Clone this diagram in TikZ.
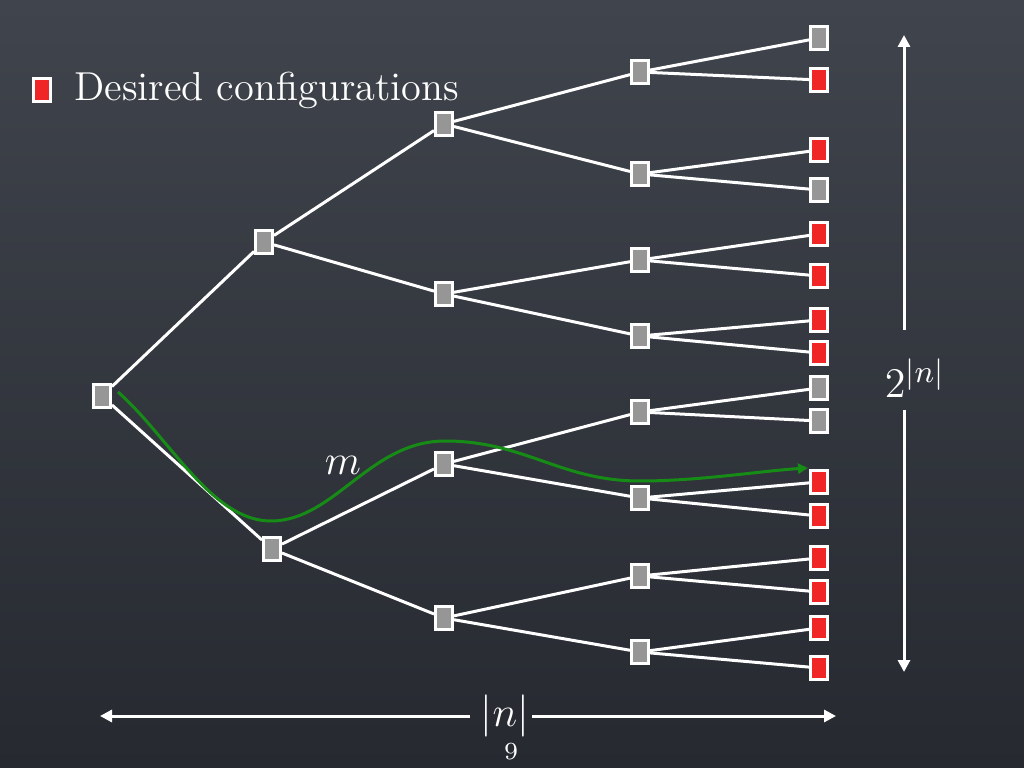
\documentclass[tikz,border=0pt]{standalone}
\usetikzlibrary{arrows.meta}

\definecolor{boardtop}{RGB}{64,68,76}
\definecolor{boardbot}{RGB}{38,41,48}
\definecolor{chalkred}{RGB}{240,38,38}
\definecolor{chalkgray}{RGB}{150,150,150}
\definecolor{chalkgreen}{RGB}{22,140,22}

\tikzset{
  cfg/.style={draw=white, line width=0.3mm, fill=chalkgray, minimum width=1.7mm, minimum height=2.3mm, inner sep=0pt},
  want/.style={cfg, fill=chalkred},
  branch/.style={white, line width=0.3mm},
  dimline/.style={white, line width=0.3mm, -{Triangle[length=1.2mm,width=1.2mm]}},
  chalktext/.style={white, font=\fontsize{11.5}{14}\selectfont},
}

\begin{document}
\begin{tikzpicture}[x=0.1mm, y=-0.1mm]
    % Board
    \shade[top color=boardtop, bottom color=boardbot] (0,0) rectangle (1024,768);
    \useasboundingbox (0,0) rectangle (1024,768);

    % Legend
    \node[want] (key) at (42,90) {};
    \node[chalktext, anchor=west] (keytext) at (62,90) {Desired configurations};

    % Root and first level
    \node[cfg] (r) at (102,396) {};
    \node[cfg] (a1) at (264,242) {};
    \node[cfg] (a2) at (272,549) {};

    % Second level
    \node[cfg] (b1) at (444,124) {};
    \node[cfg] (b2) at (444,294) {};
    \node[cfg] (b3) at (444,464) {};
    \node[cfg] (b4) at (444,618) {};

    % Third level
    \node[cfg] (c1) at (640,72) {};
    \node[cfg] (c2) at (640,174) {};
    \node[cfg] (c3) at (640,260) {};
    \node[cfg] (c4) at (640,336) {};
    \node[cfg] (c5) at (640,412) {};
    \node[cfg] (c6) at (640,498) {};
    \node[cfg] (c7) at (640,576) {};
    \node[cfg] (c8) at (640,652) {};

    % Leaves
    \node[cfg]  (d1)  at (819,38) {};
    \node[want] (d2)  at (819,80) {};
    \node[want] (d3)  at (819,150) {};
    \node[cfg]  (d4)  at (819,190) {};
    \node[want] (d5)  at (819,234) {};
    \node[want] (d6)  at (819,276) {};
    \node[want] (d7)  at (819,320) {};
    \node[want] (d8)  at (819,353) {};
    \node[cfg]  (d9)  at (819,388) {};
    \node[cfg]  (d10) at (819,421) {};
    \node[want] (d11) at (819,482) {};
    \node[want] (d12) at (819,516) {};
    \node[want] (d13) at (819,558) {};
    \node[want] (d14) at (819,592) {};
    \node[want] (d15) at (819,628) {};
    \node[want] (d16) at (819,668) {};

    % Branches
    \draw[branch] (r) -- (a1);
    \draw[branch] (r) -- (a2);
    \draw[branch] (a1) -- (b1);
    \draw[branch] (a1) -- (b2);
    \draw[branch] (a2) -- (b3);
    \draw[branch] (a2) -- (b4);
    \foreach \p/\c in {b1/c1, b1/c2, b2/c3, b2/c4, b3/c5, b3/c6, b4/c7, b4/c8}
        \draw[branch] (\p) -- (\c);
    \foreach \c/\x/\y in {c1/d1/d2, c2/d3/d4, c3/d5/d6, c4/d7/d8, c5/d9/d10, c6/d11/d12, c7/d13/d14, c8/d15/d16} {
        \draw[branch] (\c) -- (\x);
        \draw[branch] (\c) -- (\y);
    }

    % Path m
    \coordinate (mstart) at (118,392);
    \coordinate (mend) at (808,468);
    \draw[chalkgreen, line width=0.3mm, -{Triangle[length=1mm,width=1mm]}] (mstart)
        .. controls (170,438) and (212,522) .. (272,521)
        .. controls (335,520) and (370,441) .. (445,441)
        .. controls (525,441) and (560,481) .. (640,481)
        .. controls (700,481) and (760,471) .. (mend);
    \node[chalktext, font=\fontsize{12.5}{15}\selectfont] (m) at (343,465) {$m$};

    % Height 2^|n|
    \node[chalktext, font=\fontsize{12.5}{15}\selectfont] (h) at (915,378) {$2^{|n|}$};
    \coordinate (htop) at (904,35);
    \coordinate (hbot) at (904,672);
    \draw[dimline] (904,330) -- (htop);
    \draw[dimline] (904,410) -- (hbot);

    % Width |n|
    \node[chalktext, font=\fontsize{13}{15}\selectfont] (w) at (505,716) {$\left|n\right|$};
    \coordinate (wleft) at (100,716);
    \coordinate (wright) at (836,716);
    \draw[dimline] (470,716) -- (wleft);
    \draw[dimline] (532,716) -- (wright);

    % Slide number
    \node[white, font=\fontsize{7}{8}\selectfont] (page) at (511,752) {9};
\end{tikzpicture}
\end{document}
